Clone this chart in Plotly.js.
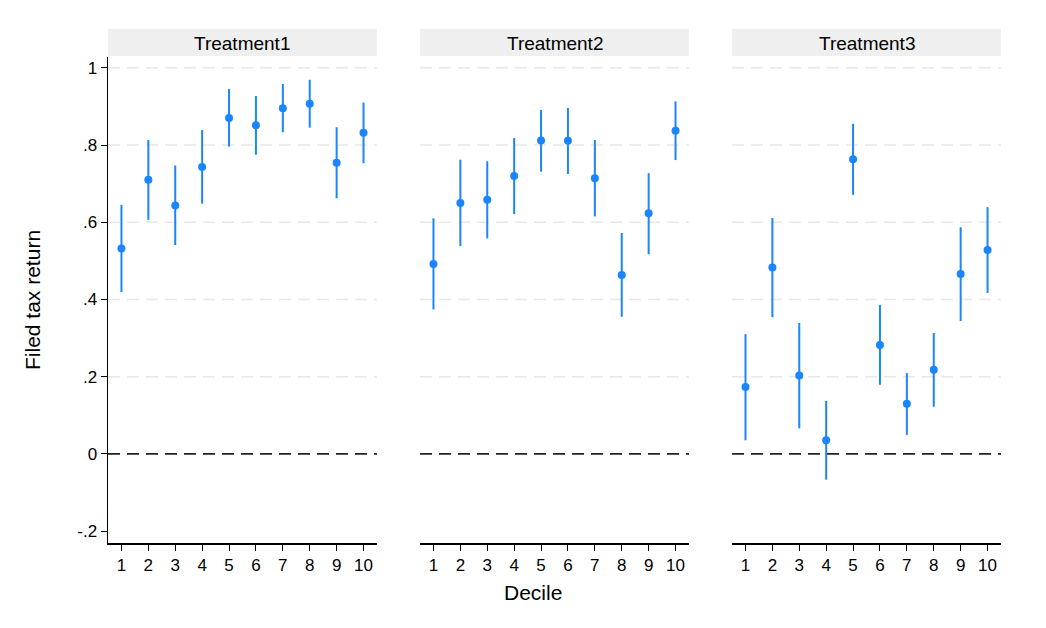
<!DOCTYPE html>
<html>
<head>
<meta charset="utf-8">
<script src="https://cdn.plot.ly/plotly-3.0.1.min.js"></script>
<style>html,body{margin:0;padding:0;background:#fff;}#chart{width:1046px;height:628px;}</style>
</head>
<body>
<div id="chart"></div>
<script>
const deciles = [1,2,3,4,5,6,7,8,9,10];
const panelTitles = ["Treatment1","Treatment2","Treatment3"];

const t1Est = [0.532,0.710,0.643,0.743,0.870,0.851,0.895,0.907,0.754,0.832];
const t1Hi  = [0.645,0.813,0.747,0.839,0.945,0.927,0.958,0.969,0.846,0.910];
const t1Lo  = [0.419,0.606,0.541,0.648,0.796,0.775,0.833,0.845,0.662,0.753];

const t2Est = [0.492,0.650,0.658,0.720,0.812,0.811,0.714,0.463,0.623,0.837];
const t2Hi  = [0.610,0.762,0.758,0.818,0.891,0.896,0.813,0.572,0.727,0.913];
const t2Lo  = [0.374,0.538,0.558,0.621,0.731,0.725,0.615,0.355,0.517,0.761];

const t3Est = [0.173,0.483,0.203,0.035,0.763,0.282,0.130,0.218,0.466,0.528];
const t3Hi  = [0.310,0.611,0.339,0.137,0.855,0.386,0.209,0.313,0.587,0.639];
const t3Lo  = [0.035,0.354,0.066,-0.067,0.671,0.179,0.049,0.122,0.344,0.417];

const yTickVals = [-0.2,0,0.2,0.4,0.6,0.8,1];
const yTickText = ["-.2","0",".2",".4",".6",".8","1"];
const gridVals = [0.2,0.4,0.6,0.8,1];
const refLine = 0;

const blue = "#1a85ff";
const font = "Liberation Sans, Arial, sans-serif";
const series = [[t1Est,t1Hi,t1Lo],[t2Est,t2Hi,t2Lo],[t3Est,t3Hi,t3Lo]];
const domains = [[0,0.3012],[0.3494,0.6506],[0.6988,1.0]];

const traces = [];
const shapes = [];
const annotations = [];
const layout = {
  width:1046, height:628,
  margin:{l:108, r:45, t:57, b:85},
  paper_bgcolor:"#fff", plot_bgcolor:"#fff",
  showlegend:false,
  font:{family:font, color:"#000", size:17}
};

series.forEach((s,i)=>{
  const n = i===0 ? "" : String(i+1);
  const est=s[0], hi=s[1], lo=s[2];
  traces.push({
    type:"scatter", mode:"markers",
    x:deciles, y:est,
    xaxis:"x"+n, yaxis:"y"+n,
    marker:{color:blue, size:8},
    error_y:{type:"data", symmetric:false,
      array:hi.map((h,k)=>h-est[k]),
      arrayminus:lo.map((l,k)=>est[k]-l),
      color:blue, thickness:2, width:0},
    hoverinfo:"x+y"
  });
  layout["xaxis"+n] = {
    domain:domains[i], range:[0.5,10.5], anchor:"y"+n,
    tickvals:deciles, ticktext:deciles.map(String),
    ticks:"outside", ticklen:6, tickwidth:1, tickcolor:"#000",
    showline:true, linecolor:"#000", linewidth:1.5,
    showgrid:false, zeroline:false,
    tickfont:{family:font, size:17, color:"#000"}
  };
  layout["yaxis"+n] = {
    domain:[0,1], range:[-0.231,1.028], anchor:"x"+n,
    tickvals:yTickVals, ticktext:yTickText,
    ticks: i===0 ? "outside":"", ticklen:6, tickwidth:1, tickcolor:"#000",
    showticklabels: i===0,
    showline: i===0, linecolor:"#000", linewidth:1.5,
    showgrid:false, zeroline:false,
    tickfont:{family:font, size:17, color:"#000"}
  };
  if (i>0) layout["yaxis"+n].matches = "y";
  const xd = "x"+n+" domain", yref = "y"+n, yd = "y"+n+" domain";
  gridVals.forEach(g=>{
    shapes.push({type:"line", layer:"below", xref:xd, x0:0, x1:1, yref:yref, y0:g, y1:g,
      line:{color:"#e8e8e8", width:1.5, dash:"12px,7px"}});
  });
  shapes.push({type:"line", layer:"below", xref:xd, x0:0, x1:1, yref:yref, y0:refLine, y1:refLine,
    line:{color:"#222", width:1.8, dash:"12px,7px"}});
  shapes.push({type:"rect", xref:xd, x0:0, x1:1, yref:yd, y0:1.002, y1:1+28/486,
    fillcolor:"#efefef", line:{width:0}});
  annotations.push({xref:xd, yref:yd, x:0.5, y:1+14/486, text:panelTitles[i],
    showarrow:false, xanchor:"center", yanchor:"middle",
    font:{family:font, size:19, color:"#000"}});
});

annotations.push({xref:"paper", yref:"paper", x:(533-108)/893, y:-(592-543)/486,
  text:"Decile", showarrow:false, xanchor:"center", yanchor:"middle",
  font:{family:font, size:21, color:"#000"}});
annotations.push({xref:"paper", yref:"paper", x:-(108-32)/893, y:(543-300)/486,
  text:"Filed tax return", showarrow:false, textangle:-90, xanchor:"center", yanchor:"middle",
  font:{family:font, size:21, color:"#000"}});

layout.shapes = shapes;
layout.annotations = annotations;

Plotly.newPlot("chart", traces, layout, {displayModeBar:false, staticPlot:true});
</script>
</body>
</html>
